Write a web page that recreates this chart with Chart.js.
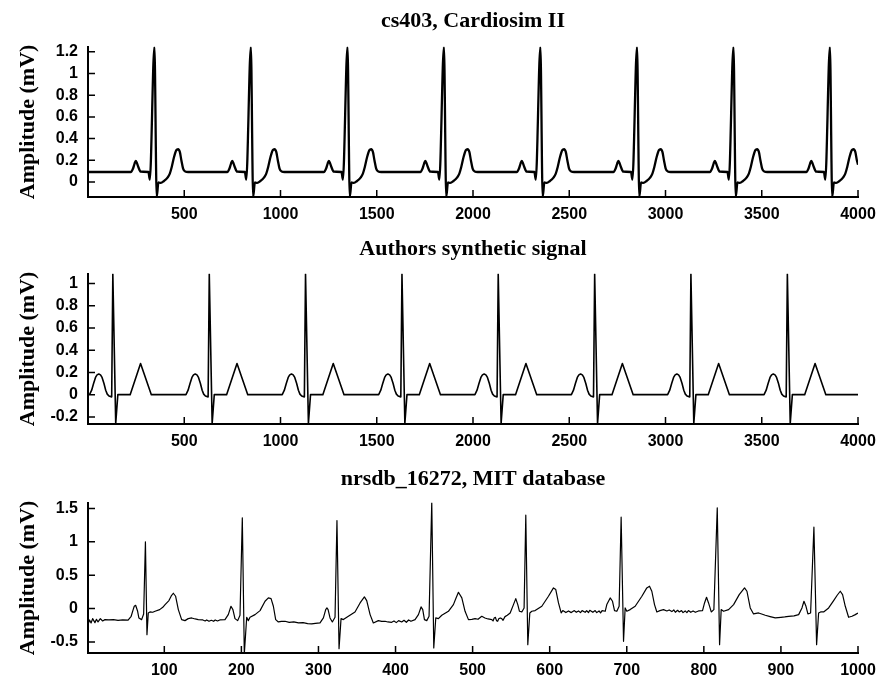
<!DOCTYPE html>
<html>
<head>
<meta charset="utf-8">
<title>ECG traces</title>
<script src="https://cdn.jsdelivr.net/npm/chart.js@4.4.1/dist/chart.umd.min.js"></script>
<style>
  body { margin: 0; background: #fff; }
  .wrap { position: relative; width: 877px; height: 677px; }
  canvas { position: absolute; left: 0; }
</style>
</head>
<body>
<div class="wrap">
  <canvas id="cs403Chart" width="877" height="227" style="top:0px"></canvas>
  <canvas id="synthChart" width="877" height="229" style="top:227px"></canvas>
  <canvas id="mitChart" width="877" height="221" style="top:456px"></canvas>
</div>
<script>
// --- cs403, Cardiosim II (sample index, mV) ---
const cs403Points = [
  [0, 0.092],
  [222, 0.092], [234, 0.124], [242, 0.17], [248, 0.194], [254, 0.175], [260, 0.145], [274, 0.095], [314, 0.092], [321, 0.022],
  [345, 1.245], [357, -0.135], [366, -0.005], [378, -0.009], [395, 0.009], [413, 0.04], [425, 0.077], [435, 0.138],
  [447, 0.23], [459, 0.293], [468, 0.302], [477, 0.277], [485, 0.2], [494, 0.124], [505, 0.096], [520, 0.092],
  [723, 0.092], [735, 0.124], [743, 0.17], [749, 0.194], [755, 0.175], [761, 0.145], [775, 0.095], [815, 0.092], [822, 0.022],
  [846, 1.245], [858, -0.135], [867, -0.005], [879, -0.009], [896, 0.009], [914, 0.04], [926, 0.077], [936, 0.138],
  [948, 0.23], [960, 0.293], [969, 0.302], [978, 0.277], [986, 0.2], [995, 0.124], [1006, 0.096], [1021, 0.092],
  [1225, 0.092], [1237, 0.124], [1245, 0.17], [1251, 0.194], [1257, 0.175], [1263, 0.145], [1277, 0.095], [1317, 0.092], [1324, 0.022],
  [1348, 1.245], [1360, -0.135], [1369, -0.005], [1381, -0.009], [1398, 0.009], [1416, 0.04], [1428, 0.077], [1438, 0.138],
  [1450, 0.23], [1462, 0.293], [1471, 0.302], [1480, 0.277], [1488, 0.2], [1497, 0.124], [1508, 0.096], [1523, 0.092],
  [1726, 0.092], [1738, 0.124], [1746, 0.17], [1752, 0.194], [1758, 0.175], [1764, 0.145], [1778, 0.095], [1818, 0.092], [1825, 0.022],
  [1849, 1.245], [1861, -0.135], [1870, -0.005], [1882, -0.009], [1899, 0.009], [1917, 0.04], [1929, 0.077], [1939, 0.138],
  [1951, 0.23], [1963, 0.293], [1972, 0.302], [1981, 0.277], [1989, 0.2], [1998, 0.124], [2009, 0.096], [2024, 0.092],
  [2227, 0.092], [2239, 0.124], [2247, 0.17], [2253, 0.194], [2259, 0.175], [2265, 0.145], [2279, 0.095], [2319, 0.092], [2326, 0.022],
  [2350, 1.245], [2362, -0.135], [2371, -0.005], [2383, -0.009], [2400, 0.009], [2418, 0.04], [2430, 0.077], [2440, 0.138],
  [2452, 0.23], [2464, 0.293], [2473, 0.302], [2482, 0.277], [2490, 0.2], [2499, 0.124], [2510, 0.096], [2525, 0.092],
  [2729, 0.092], [2741, 0.124], [2749, 0.17], [2755, 0.194], [2761, 0.175], [2767, 0.145], [2781, 0.095], [2821, 0.092], [2828, 0.022],
  [2852, 1.245], [2864, -0.135], [2873, -0.005], [2885, -0.009], [2902, 0.009], [2920, 0.04], [2932, 0.077], [2942, 0.138],
  [2954, 0.23], [2966, 0.293], [2975, 0.302], [2984, 0.277], [2992, 0.2], [3001, 0.124], [3012, 0.096], [3027, 0.092],
  [3230, 0.092], [3242, 0.124], [3250, 0.17], [3256, 0.194], [3262, 0.175], [3268, 0.145], [3282, 0.095], [3322, 0.092], [3329, 0.022],
  [3353, 1.245], [3365, -0.135], [3374, -0.005], [3386, -0.009], [3403, 0.009], [3421, 0.04], [3433, 0.077], [3443, 0.138],
  [3455, 0.23], [3467, 0.293], [3476, 0.302], [3485, 0.277], [3493, 0.2], [3502, 0.124], [3513, 0.096], [3528, 0.092],
  [3731, 0.092], [3743, 0.124], [3751, 0.17], [3757, 0.194], [3763, 0.175], [3769, 0.145], [3783, 0.095], [3823, 0.092], [3830, 0.022],
  [3854, 1.245], [3866, -0.135], [3875, -0.005], [3887, -0.009], [3904, 0.009], [3922, 0.04], [3934, 0.077], [3944, 0.138],
  [3956, 0.23], [3968, 0.293], [3977, 0.302], [3986, 0.277], [3994, 0.2], [4000, 0.16]
];
const cs403XTicks = [500, 1000, 1500, 2000, 2500, 3000, 3500, 4000];
const cs403YTicks = [0, 0.2, 0.4, 0.6, 0.8, 1, 1.2];

// --- Authors synthetic signal ---
const synthPoints = [
  [8, 0], [19, 0.04], [29, 0.1], [39, 0.155], [47, 0.178], [56, 0.186], [65, 0.178], [73, 0.155], [83, 0.1], [92, 0.04],
  [100, 0.005], [109, -0.012], [123, -0.02], [129, 1.086], [144, -0.26], [155, 0], [219, 0], [273, 0.28], [329, 0],
  [509, 0], [520, 0.04], [530, 0.1], [540, 0.155], [548, 0.178], [557, 0.186], [566, 0.178], [574, 0.155], [584, 0.1], [593, 0.04],
  [601, 0.005], [610, -0.012], [624, -0.02], [630, 1.086], [645, -0.26], [656, 0], [720, 0], [774, 0.28], [830, 0],
  [1009, 0], [1020, 0.04], [1030, 0.1], [1040, 0.155], [1048, 0.178], [1057, 0.186], [1066, 0.178], [1074, 0.155], [1084, 0.1], [1093, 0.04],
  [1101, 0.005], [1110, -0.012], [1124, -0.02], [1130, 1.086], [1145, -0.26], [1156, 0], [1220, 0], [1274, 0.28], [1330, 0],
  [1510, 0], [1521, 0.04], [1531, 0.1], [1541, 0.155], [1549, 0.178], [1558, 0.186], [1567, 0.178], [1575, 0.155], [1585, 0.1], [1594, 0.04],
  [1602, 0.005], [1611, -0.012], [1625, -0.02], [1631, 1.086], [1646, -0.26], [1657, 0], [1721, 0], [1775, 0.28], [1831, 0],
  [2010, 0], [2021, 0.04], [2031, 0.1], [2041, 0.155], [2049, 0.178], [2058, 0.186], [2067, 0.178], [2075, 0.155], [2085, 0.1], [2094, 0.04],
  [2102, 0.005], [2111, -0.012], [2125, -0.02], [2131, 1.086], [2146, -0.26], [2157, 0], [2221, 0], [2275, 0.28], [2331, 0],
  [2511, 0], [2522, 0.04], [2532, 0.1], [2542, 0.155], [2550, 0.178], [2559, 0.186], [2568, 0.178], [2576, 0.155], [2586, 0.1], [2595, 0.04],
  [2603, 0.005], [2612, -0.012], [2626, -0.02], [2632, 1.086], [2647, -0.26], [2658, 0], [2722, 0], [2776, 0.28], [2832, 0],
  [3011, 0], [3022, 0.04], [3032, 0.1], [3042, 0.155], [3050, 0.178], [3059, 0.186], [3068, 0.178], [3076, 0.155], [3086, 0.1], [3095, 0.04],
  [3103, 0.005], [3112, -0.012], [3126, -0.02], [3132, 1.086], [3147, -0.26], [3158, 0], [3222, 0], [3276, 0.28], [3332, 0],
  [3512, 0], [3523, 0.04], [3533, 0.1], [3543, 0.155], [3551, 0.178], [3560, 0.186], [3569, 0.178], [3577, 0.155], [3587, 0.1], [3596, 0.04],
  [3604, 0.005], [3613, -0.012], [3627, -0.02], [3633, 1.086], [3648, -0.26], [3659, 0], [3723, 0], [3777, 0.28], [3833, 0],
  [4000, 0]
];
const synthXTicks = [500, 1000, 1500, 2000, 2500, 3000, 3500, 4000];
const synthYTicks = [-0.2, 0, 0.2, 0.4, 0.6, 0.8, 1];

// --- nrsdb_16272, MIT database ---
const mitPoints = [
  [1, -0.24], [3, -0.17], [5, -0.215], [7, -0.15], [10, -0.21], [12, -0.16], [14, -0.2], [17, -0.15], [20, -0.185],
  [23, -0.165], [28, -0.17], [34, -0.165], [40, -0.175], [46, -0.168], [53, -0.172],
  [57, -0.115], [59.5, -0.02], [61, 0.035], [62.8, 0.05], [65.4, -0.04], [67, -0.14], [70.6, -0.165], [73.2, -0.08],
  [75.5, 1.0], [77.5, -0.39], [79.2, -0.065], [81.4, -0.05], [85, -0.055], [88, -0.04], [94, -0.015], [98, 0.02],
  [101, 0.06], [106, 0.12], [109, 0.19], [111.7, 0.23], [114.7, 0.185], [118.2, -0.015], [122.5, -0.165], [126.8, -0.18],
  [131, -0.15], [135.5, -0.14], [140, -0.155], [144, -0.165], [150, -0.17], [153, -0.185], [155, -0.17], [158, -0.19],
  [161, -0.175], [164, -0.19], [166, -0.17], [169, -0.185], [172, -0.17], [178.7, -0.165],
  [183, -0.09], [186.5, 0.035], [189, -0.015], [191.7, -0.15], [195.2, -0.18], [198.2, -0.1],
  [201.2, 1.36], [203.8, -0.68], [206.9, -0.13], [209, -0.18], [211.2, -0.13], [217.7, -0.09], [224.2, -0.03],
  [230.7, 0.11], [235, 0.16], [238.5, 0.15], [241.5, 0.035], [244.5, -0.165], [248, -0.2], [252, -0.19], [256.6, -0.19],
  [262, -0.205], [268, -0.2], [274, -0.215], [280, -0.21], [286, -0.225], [291.2, -0.23], [296, -0.22], [302, -0.215],
  [306.4, -0.14], [309.4, -0.015], [311, 0.01], [312.5, -0.015], [315, -0.14], [318, -0.2], [321.5, -0.13],
  [324, 1.32], [326.7, -0.6], [329.3, -0.15], [332.3, -0.165], [338.8, -0.115], [347.4, -0.05], [354, 0.085],
  [359.6, 0.175], [362.6, 0.12], [367, -0.09], [371.2, -0.215], [377.7, -0.18], [382, -0.19], [386.4, -0.19],
  [390, -0.2], [395, -0.205], [398, -0.185], [401, -0.21], [404, -0.18], [408, -0.2], [411, -0.175], [414, -0.205],
  [417, -0.17], [420, -0.19], [425.3, -0.165],
  [429.7, -0.09], [433.1, 0.025], [435.3, -0.015], [437.5, -0.165], [440.5, -0.18], [443.5, -0.115],
  [447, 1.6], [449.6, -0.59], [452.2, -0.14], [455.6, -0.15], [460, -0.1], [468.6, -0.04], [475.1, 0.06],
  [478.5, 0.16], [481.6, 0.245], [486, 0.16], [490.2, -0.04], [494.6, -0.165], [499, -0.16], [503.2, -0.15],
  [507, -0.16], [511.9, -0.115], [516, -0.14], [520, -0.155], [524.9, -0.165], [526.5, -0.185], [528, -0.14],
  [529.5, -0.13], [531, -0.18], [532.5, -0.19], [534, -0.15], [536, -0.14], [537.8, -0.15], [539.5, -0.175],
  [542, -0.12], [545, -0.1],
  [548.7, -0.065], [553, 0.06], [556, 0.15], [558.6, 0.06], [560.8, -0.04], [563.8, -0.05], [566.8, 0.01],
  [569, 1.4], [571.6, -0.54], [574.2, -0.065], [576.8, -0.04], [581.1, -0.03], [589.8, 0.035], [598.4, 0.185],
  [604.9, 0.31], [607.9, 0.285], [611.4, 0.085], [614.9, -0.065], [617, -0.03], [621, -0.06], [624.4, -0.035],
  [628, -0.06], [632, -0.03], [634.5, -0.055], [637.4, -0.035], [640, -0.06], [642, -0.03], [646, -0.055],
  [648, -0.03], [650.3, -0.06], [652, -0.025], [656, -0.055], [659, -0.03], [661, -0.06], [664, -0.035],
  [666, -0.065], [668, -0.03], [672, -0.04],
  [674.1, 0.06], [678.5, 0.16], [681.5, 0.11], [684.1, -0.03], [687.1, -0.04], [690.1, 0.035],
  [692.7, 1.37], [695.8, -0.49], [697.9, 0.01], [700.1, -0.04], [704.4, -0.015], [710.9, 0.035], [719.6, 0.185],
  [726, 0.31], [729.5, 0.335], [732.5, 0.26], [736, 0.06], [739, -0.05], [743, -0.03], [747.7, -0.015],
  [752, -0.035], [755, -0.02], [758.5, -0.045], [761, -0.02], [763, -0.055], [766, -0.025], [768, -0.05],
  [771, -0.03], [773, -0.06], [775.8, -0.035], [778, -0.06], [780, -0.03], [783, -0.055], [786, -0.035],
  [789, -0.055], [793.1, -0.035], [798.3, -0.03],
  [800.9, 0.085], [803.5, 0.17], [806.1, 0.085], [809.6, -0.05], [813, -0.015],
  [817.4, 1.51], [820.4, -0.54], [822.5, -0.015], [825.6, -0.04], [832.1, -0.015], [838.6, 0.06], [845.9, 0.21],
  [852.8, 0.31], [855.9, 0.26], [860.2, 0.01], [864.5, -0.08], [871, -0.065], [875, -0.08], [879.7, -0.1],
  [886, -0.12], [892.6, -0.14], [900, -0.13], [905, -0.125], [910, -0.115], [917, -0.11], [923, -0.09],
  [927.3, 0.01], [929.9, 0.11], [932.5, 0.035], [935, -0.08], [938.5, -0.065],
  [942.8, 1.22], [946.3, -0.54], [948.9, -0.065], [951.5, -0.05], [955.4, -0.05], [961.9, 0.01], [968.4, 0.12],
  [973, 0.2], [977, 0.26], [980, 0.21], [983.5, 0.035], [987.8, -0.13], [992.2, -0.115], [996.5, -0.09], [1000, -0.065]
];
const mitXTicks = [100, 200, 300, 400, 500, 600, 700, 800, 900, 1000];
const mitYTicks = [-0.5, 0, 0.5, 1, 1.5];

const tickFont = { family: '"Liberation Sans", Arial, Helvetica, sans-serif', weight: 'bold', size: 16 };
const titleFont = { family: '"Liberation Serif", "Times New Roman", serif', weight: 'bold', size: 22 };

// gnuplot-style tick marks pointing into the plot
const innerTicks = {
  id: 'innerTicks',
  afterDraw(chart) {
    const { ctx, chartArea, scales } = chart;
    ctx.save();
    ctx.strokeStyle = '#000';
    ctx.lineWidth = 1.5;
    ctx.beginPath();
    scales.x.ticks.forEach(t => {
      const px = scales.x.getPixelForValue(t.value);
      ctx.moveTo(px, chartArea.bottom);
      ctx.lineTo(px, chartArea.bottom - 7);
    });
    scales.y.ticks.forEach(t => {
      const py = scales.y.getPixelForValue(t.value);
      ctx.moveTo(chartArea.left, py);
      ctx.lineTo(chartArea.left + 7, py);
    });
    ctx.stroke();
    ctx.restore();
  }
};

function makeTrace(id, cfg) {
  const ctx = document.getElementById(id).getContext('2d');
  return new Chart(ctx, {
    type: 'line',
    data: {
      datasets: [{
        data: cfg.points.map(([x, y]) => ({ x, y })),
        borderColor: '#000',
        borderWidth: cfg.lineWidth,
        borderJoinStyle: 'round',
        pointRadius: 0,
        fill: false,
        tension: 0,
        cubicInterpolationMode: cfg.smooth ? 'monotone' : 'default'
      }]
    },
    options: {
      responsive: false,
      animation: false,
      devicePixelRatio: 1,
      layout: { padding: { left: 0, right: 19, top: 0, bottom: 0 } },
      plugins: {
        legend: { display: false },
        tooltip: { enabled: false },
        title: {
          display: true,
          text: cfg.title,
          fullSize: false,
          color: '#000',
          font: titleFont,
          padding: { top: cfg.titleTop, bottom: 46.8 - cfg.titleTop - 26.4 }
        }
      },
      scales: {
        x: {
          type: 'linear',
          min: cfg.xMin,
          max: cfg.xMax,
          afterBuildTicks: s => { s.ticks = cfg.xTicks.map(v => ({ value: v })); },
          // keep the plot edge fixed; the last label may overhang
          afterFit: s => { s.height = cfg.xAxisHeight; s.paddingLeft = 0; s.paddingRight = 0; },
          grid: { drawOnChartArea: false, drawTicks: false },
          border: { display: true, color: '#000', width: 2 },
          ticks: {
            color: '#000',
            font: tickFont,
            padding: 8,
            autoSkip: false,
            maxRotation: 0,
            callback: v => String(v)
          }
        },
        y: {
          type: 'linear',
          min: cfg.yMin,
          max: cfg.yMax,
          afterBuildTicks: s => { s.ticks = cfg.yTicks.map(v => ({ value: v })); },
          afterFit: s => { s.width = 88; s.paddingTop = 0; s.paddingBottom = 0; },
          grid: { drawOnChartArea: false, drawTicks: false },
          border: { display: true, color: '#000', width: 2 },
          title: {
            display: true,
            text: 'Amplitude (mV)',
            color: '#000',
            font: titleFont,
            padding: { top: 15, bottom: 0 }
          },
          ticks: {
            color: '#000',
            font: tickFont,
            padding: 10,
            autoSkip: false,
            callback: v => String(v)
          }
        }
      }
    },
    plugins: [innerTicks]
  });
}

makeTrace('cs403Chart', {
  title: 'cs403, Cardiosim II',
  points: cs403Points,
  xTicks: cs403XTicks, yTicks: cs403YTicks,
  xMin: 0, xMax: 4000, yMin: -0.1385, yMax: 1.2465,
  lineWidth: 2.3, smooth: true, titleTop: 8, xAxisHeight: 30
});

makeTrace('synthChart', {
  title: 'Authors synthetic signal',
  points: synthPoints,
  xTicks: synthXTicks, yTicks: synthYTicks,
  xMin: 0, xMax: 4000, yMin: -0.264, yMax: 1.087,
  lineWidth: 1.6, smooth: false, titleTop: 9, xAxisHeight: 32
});

makeTrace('mitChart', {
  title: 'nrsdb_16272, MIT database',
  points: mitPoints,
  xTicks: mitXTicks, yTicks: mitYTicks,
  xMin: 1, xMax: 1000, yMin: -0.665, yMax: 1.585,
  lineWidth: 1.2, smooth: false, titleTop: 10, xAxisHeight: 24
});
</script>
</body>
</html>
